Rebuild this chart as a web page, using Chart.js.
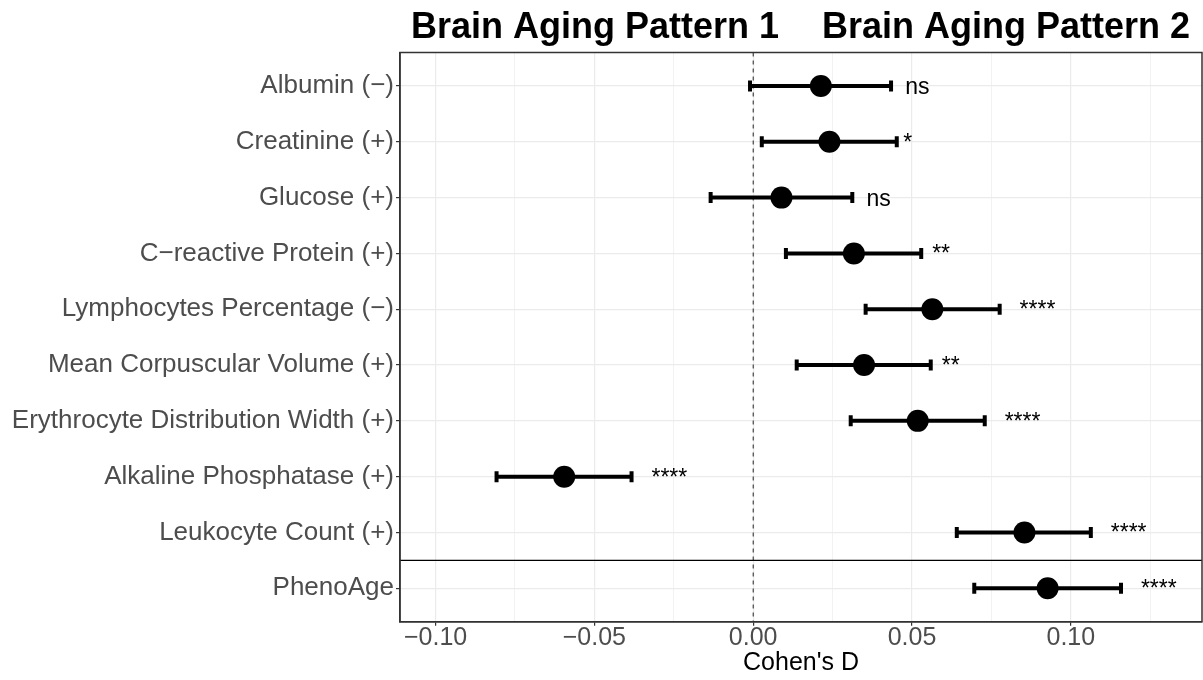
<!DOCTYPE html>
<html><head><meta charset="utf-8">
<script src="https://cdn.jsdelivr.net/npm/chart.js@4/dist/chart.umd.min.js"></script>
<style>html,body{margin:0;padding:0;background:#fff;}#wrap{width:1203px;height:680px;position:relative;}</style>
</head><body><div id="wrap"><canvas id="c" width="1203" height="680"></canvas></div>
<script>
const categories = ['Albumin (\u2212)', 'Creatinine (+)', 'Glucose (+)', 'C\u2212reactive Protein (+)', 'Lymphocytes Percentage (\u2212)', 'Mean Corpuscular Volume (+)', 'Erythrocyte Distribution Width (+)', 'Alkaline Phosphatase (+)', 'Leukocyte Count (+)', 'PhenoAge'];
const estimates = [0.0213, 0.0240, 0.0089, 0.0317, 0.0564, 0.0349, 0.0518, -0.0595, 0.0854, 0.0927];
const lowerCI = [-0.0010, 0.0027, -0.0134, 0.0103, 0.0354, 0.0137, 0.0307, -0.0808, 0.0641, 0.0696];
const upperCI = [0.0434, 0.0452, 0.0312, 0.0529, 0.0776, 0.0559, 0.0729, -0.0383, 0.1063, 0.1158];
const significance = ['ns', '*', 'ns', '**', '****', '**', '****', '****', '****', '****'];
const titles = ['Brain Aging Pattern 1', 'Brain Aging Pattern 2'];
const xTickValues = [-0.1, -0.075, -0.05, -0.025, 0, 0.025, 0.05, 0.075, 0.1, 0.125];
const xMajorTicks = [-0.1, -0.05, 0, 0.05, 0.1];
const xLimits = [-0.1112, 0.1413];
const yLimits = [0.4, 10.6];
const separatorAt = 9.5;
const referenceAt = 0;
const xTitle = "Cohen's D";

const FAMILY = '"Liberation Sans", Arial, sans-serif';
const isMajor = v => xMajorTicks.some(m => Math.abs(m - v) < 1e-9);
const fmt = v => { const s = Math.abs(v).toFixed(2); return (v < -1e-9 ? '\u2212' : '') + s; };

const datasets = [];
datasets.push({
  type: 'scatter',
  data: estimates.map((v, i) => ({ x: v, y: i + 1 })),
  pointRadius: 11, pointHoverRadius: 11, backgroundColor: '#000', borderWidth: 0, order: 0
});
categories.forEach((c, i) => {
  datasets.push({
    type: 'line',
    data: [{ x: lowerCI[i], y: i + 1 }, { x: upperCI[i], y: i + 1 }],
    borderColor: '#000', borderWidth: 4, borderCapStyle: 'butt',
    pointStyle: 'line', pointRotation: 90, pointRadius: 5.5, pointHoverRadius: 5.5,
    pointBorderWidth: 4, pointBorderColor: '#000', pointBackgroundColor: '#000',
    order: 1
  });
});
datasets.push({
  type: 'line',
  data: [{ x: referenceAt, y: yLimits[0] }, { x: referenceAt, y: yLimits[1] }],
  borderColor: '#222', borderWidth: 1, borderDash: [4, 4], pointRadius: 0, order: 3
});
datasets.push({
  type: 'line',
  data: [{ x: xLimits[0], y: separatorAt }, { x: xLimits[1], y: separatorAt }],
  borderColor: '#000', borderWidth: 1.3, pointRadius: 0, order: 2
});

const annot = {
  id: 'annot',
  afterDatasetsDraw(chart) {
    const { ctx, chartArea: a, scales: { x, y } } = chart;
    ctx.save();
    ctx.font = '23px ' + FAMILY;
    ctx.fillStyle = '#000';
    ctx.textAlign = 'left';
    ctx.textBaseline = 'alphabetic';
    significance.forEach((s, i) => {
      const w = ctx.measureText(s).width;
      const px = x.getPixelForValue(upperCI[i]) + 2 + w * 0.5;
      const py = y.getPixelForValue(i + 1) + 8;
      ctx.fillText(s, px, py);
    });
    ctx.strokeStyle = '#333';
    ctx.lineWidth = 1.5;
    ctx.strokeRect(a.left, a.top, a.right - a.left, a.bottom - a.top);
    const cx = (a.left + a.right) / 2;
    ctx.font = 'bold 36px ' + FAMILY;
    ctx.fillStyle = '#000';
    ctx.textAlign = 'right';
    ctx.fillText(titles[0], cx - 22, 38);
    ctx.textAlign = 'left';
    ctx.fillText(titles[1], cx + 21, 38);
    ctx.restore();
  }
};

new Chart(document.getElementById('c'), {
  type: 'scatter',
  data: { datasets },
  options: {
    responsive: false,
    animation: false,
    events: [],
    layout: { autoPadding: false, padding: { top: 52.5, right: 1, left: 0, bottom: 0 } },
    plugins: { legend: { display: false }, tooltip: { enabled: false }, title: { display: false } },
    scales: {
      x: {
        type: 'linear', min: xLimits[0], max: xLimits[1],
        afterBuildTicks: s => { s.ticks = xTickValues.map(v => ({ value: v })); },
        afterFit: s => { s.height = 58.2; s.paddingLeft = 0; s.paddingRight = 0; },
        ticks: {
          autoSkip: false, maxRotation: 0, padding: -3,
          callback: v => isMajor(v) ? fmt(v) : '',
          font: { family: FAMILY, size: 25 }, color: '#4D4D4D'
        },
        grid: {
          color: c => (c.tick && isMajor(c.tick.value)) ? '#EBEBEB' : '#F2F2F2',
          lineWidth: c => (c.tick && isMajor(c.tick.value)) ? 1.2 : 1,
          tickColor: c => (c.tick && isMajor(c.tick.value)) ? '#333' : 'rgba(0,0,0,0)',
          tickLength: 4, tickWidth: 1.2
        },
        border: { display: true, color: '#333', width: 1.5 },
        title: { display: true, text: xTitle, color: '#000', font: { family: FAMILY, size: 25 }, padding: { top: 0, bottom: 2 } }
      },
      y: {
        type: 'linear', reverse: true, min: yLimits[0], max: yLimits[1],
        afterBuildTicks: s => { s.ticks = categories.map((c, i) => ({ value: i + 1 })); },
        afterFit: s => { s.width = 400; s.paddingTop = 0; s.paddingBottom = 0; },
        ticks: {
          autoSkip: false, padding: 2,
          callback: v => categories[Math.round(v) - 1] || '',
          font: { family: FAMILY, size: 26 }, color: '#4D4D4D'
        },
        grid: { color: '#EBEBEB', lineWidth: 1.2, tickColor: '#333', tickLength: 4, tickWidth: 1.2 },
        border: { display: true, color: '#333', width: 1.5 }
      }
    }
  },
  plugins: [annot]
});
</script>
</body></html>
